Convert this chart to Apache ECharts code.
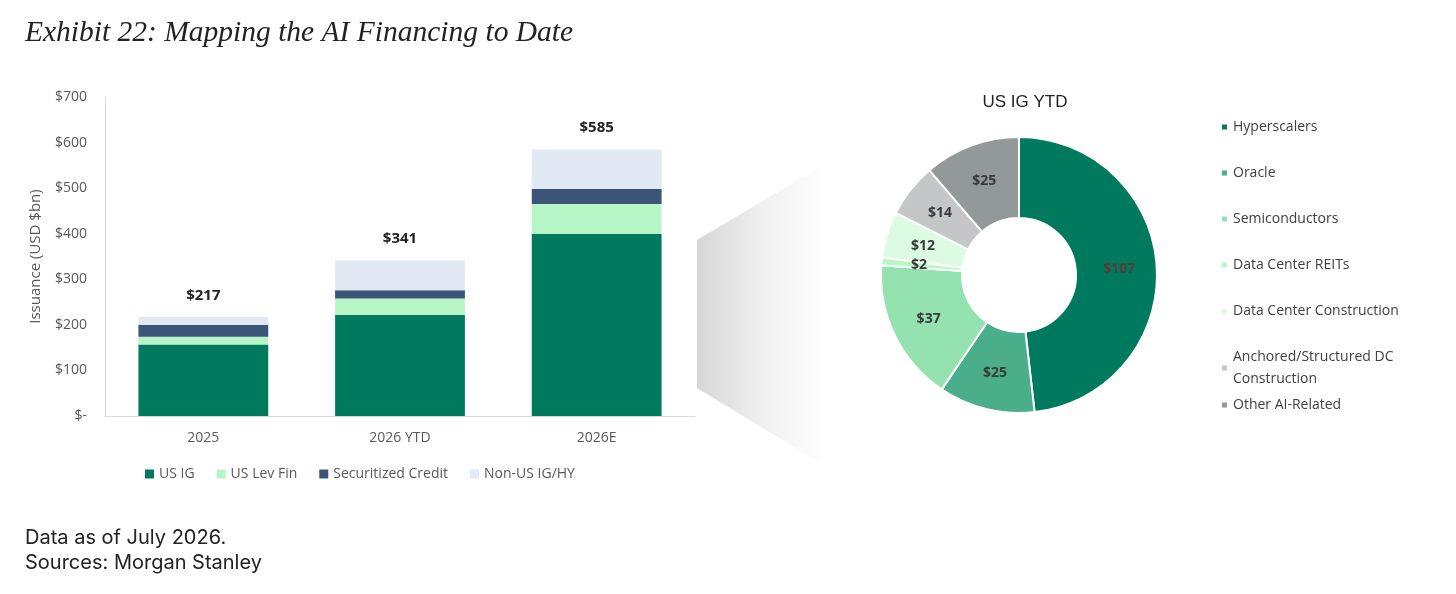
<!DOCTYPE html>
<html>
<head>
<meta charset="utf-8">
<script src="https://cdn.jsdelivr.net/npm/echarts@6/dist/echarts.min.js"></script>
<style>
  html, body { margin: 0; padding: 0; background: #fff; }
  #chart { width: 1456px; height: 594px; }
</style>
</head>
<body>
<div id="chart"></div>
<script>
// bar chart data (USD bn)
const years = ['2025', '2026 YTD', '2026E'];
const usIG = [157, 222, 400];
const usLevFin = [17, 36, 65];
const securitized = [26, 18, 33];
const nonUS = [17, 65, 87];
const yTicks = [0, 100, 200, 300, 400, 500, 600, 700];

// US IG YTD breakdown
const sectors = ['Hyperscalers', 'Oracle', 'Semiconductors', 'Data Center REITs',
  'Data Center Construction', 'Anchored/Structured DC Construction', 'Other AI-Related'];
const sectorValues = [107, 25, 37, 2, 12, 14, 25];
const sectorColors = ['#007a5e', '#4aae8a', '#93e2b0', '#b6f9c4', '#ddfbe2', '#c4c6c7', '#929998'];

const totals = years.map((y, i) => usIG[i] + usLevFin[i] + securitized[i] + nonUS[i]);

const chart = echarts.init(document.getElementById('chart'));

const axisFont = { fontFamily: 'Open Sans', fontSize: 14, color: '#595959' };

function barSeries(name, data, color, withTotal) {
    return {
        name: name,
        type: 'bar',
        stack: 'total',
        barWidth: '66%',
        data: data,
        itemStyle: { color: color },
        label: withTotal ? {
            show: true,
            position: 'top',
            distance: 14,
            formatter: (p) => '$' + totals[p.dataIndex],
            fontFamily: 'Open Sans',
            fontWeight: 'bold',
            fontSize: 15,
            color: '#222'
        } : { show: false }
    };
}

const options = {
    animation: false,
    title: [
        {
            text: 'Exhibit 22: Mapping the AI Financing to Date',
            left: 25, top: 18, padding: 0,
            textStyle: { fontFamily: 'Liberation Serif', fontStyle: 'italic', fontWeight: 'normal', fontSize: 29.5, color: '#222' }
        },
        {
            text: 'US IG YTD',
            left: 1020, top: 89, textAlign: 'center',
            textStyle: { fontFamily: 'Liberation Sans', fontWeight: 'normal', fontSize: 17, color: '#222' }
        },
        {
            text: 'Data as of July 2026.\nSources: Morgan Stanley',
            left: 25, top: 525, padding: 0,
            textStyle: { fontFamily: 'Inter', fontWeight: 'normal', fontSize: 20, lineHeight: 25, color: '#222' }
        }
    ],
    legend: [
        {
            data: ['US IG', 'US Lev Fin', 'Securitized Credit', 'Non-US IG/HY'],
            left: 145, top: 467, padding: 0,
            itemWidth: 9, itemHeight: 9, itemGap: 22,
            icon: 'rect',
            textStyle: axisFont
        },
        {
            data: sectors.slice(0, 6),
            orient: 'vertical',
            left: 1220, top: 116, padding: 0,
            itemWidth: 7, itemHeight: 7, itemGap: 24,
            icon: 'rect',
            formatter: (n) => n === 'Anchored/Structured DC Construction' ? 'Anchored/Structured DC\nConstruction' : n,
            textStyle: { fontFamily: 'Open Sans', fontSize: 14, color: '#404040', lineHeight: 22 }
        },
        {
            data: sectors.slice(6),
            orient: 'vertical',
            left: 1220, top: 394, padding: 0,
            itemWidth: 7, itemHeight: 7,
            icon: 'rect',
            textStyle: { fontFamily: 'Open Sans', fontSize: 14, color: '#404040', lineHeight: 22 }
        }
    ],
    grid: { left: 105, right: 761, top: 97, bottom: 178 },
    xAxis: {
        type: 'category',
        data: years,
        axisLine: { lineStyle: { color: '#d9d9d9', width: 1 } },
        axisTick: { show: false },
        axisLabel: Object.assign({ margin: 15 }, axisFont)
    },
    yAxis: {
        type: 'value',
        min: 0, max: 700, interval: 100,
        name: 'Issuance (USD $bn)',
        nameLocation: 'middle',
        nameGap: 62,
        nameTextStyle: { fontFamily: 'Open Sans', fontSize: 15, color: '#595959' },
        axisLine: { show: true, lineStyle: { color: '#d9d9d9', width: 1 } },
        axisTick: { show: false },
        splitLine: { show: false },
        axisLabel: Object.assign({
            margin: 18,
            formatter: (v) => yTicks.indexOf(v) < 0 ? '' : (v === 0 ? '$-' : '$' + v)
        }, axisFont)
    },
    graphic: [
        {
            type: 'polygon',
            z: -1,
            shape: { points: [[697, 240], [827, 163], [827, 467], [697, 388]] },
            style: {
                fill: new echarts.graphic.LinearGradient(0, 0, 1, 0, [
                    { offset: 0, color: '#d6d6d6' },
                    { offset: 0.5, color: '#f0f0f0' },
                    { offset: 1, color: '#ffffff' }
                ])
            }
        }
    ],
    series: [
        barSeries('US IG', usIG, '#007a5e', false),
        barSeries('US Lev Fin', usLevFin, '#b6f5c6', false),
        barSeries('Securitized Credit', securitized, '#3a5577', false),
        barSeries('Non-US IG/HY', nonUS, '#e1e9f5', true),
        {
            name: 'US IG YTD',
            type: 'pie',
            center: [1019, 275],
            radius: [57, 138],
            startAngle: 90,
            clockwise: true,
            data: sectors.map((s, i) => ({ name: s, value: sectorValues[i], itemStyle: { color: sectorColors[i] } })),
            itemStyle: { borderColor: '#fff', borderWidth: 2 },
            label: {
                show: true,
                position: 'inside',
                formatter: (p) => '$' + p.value,
                fontFamily: 'Open Sans',
                fontWeight: 'bold',
                fontSize: 14,
                color: '#3a3a3a'
            },
            labelLine: { show: false }
        }
    ]
};

// the big slice has its label in a reddish dark tone
options.series[4].data[0].label = { color: '#5a3b3b' };

chart.setOption(options);
</script>
</body>
</html>
